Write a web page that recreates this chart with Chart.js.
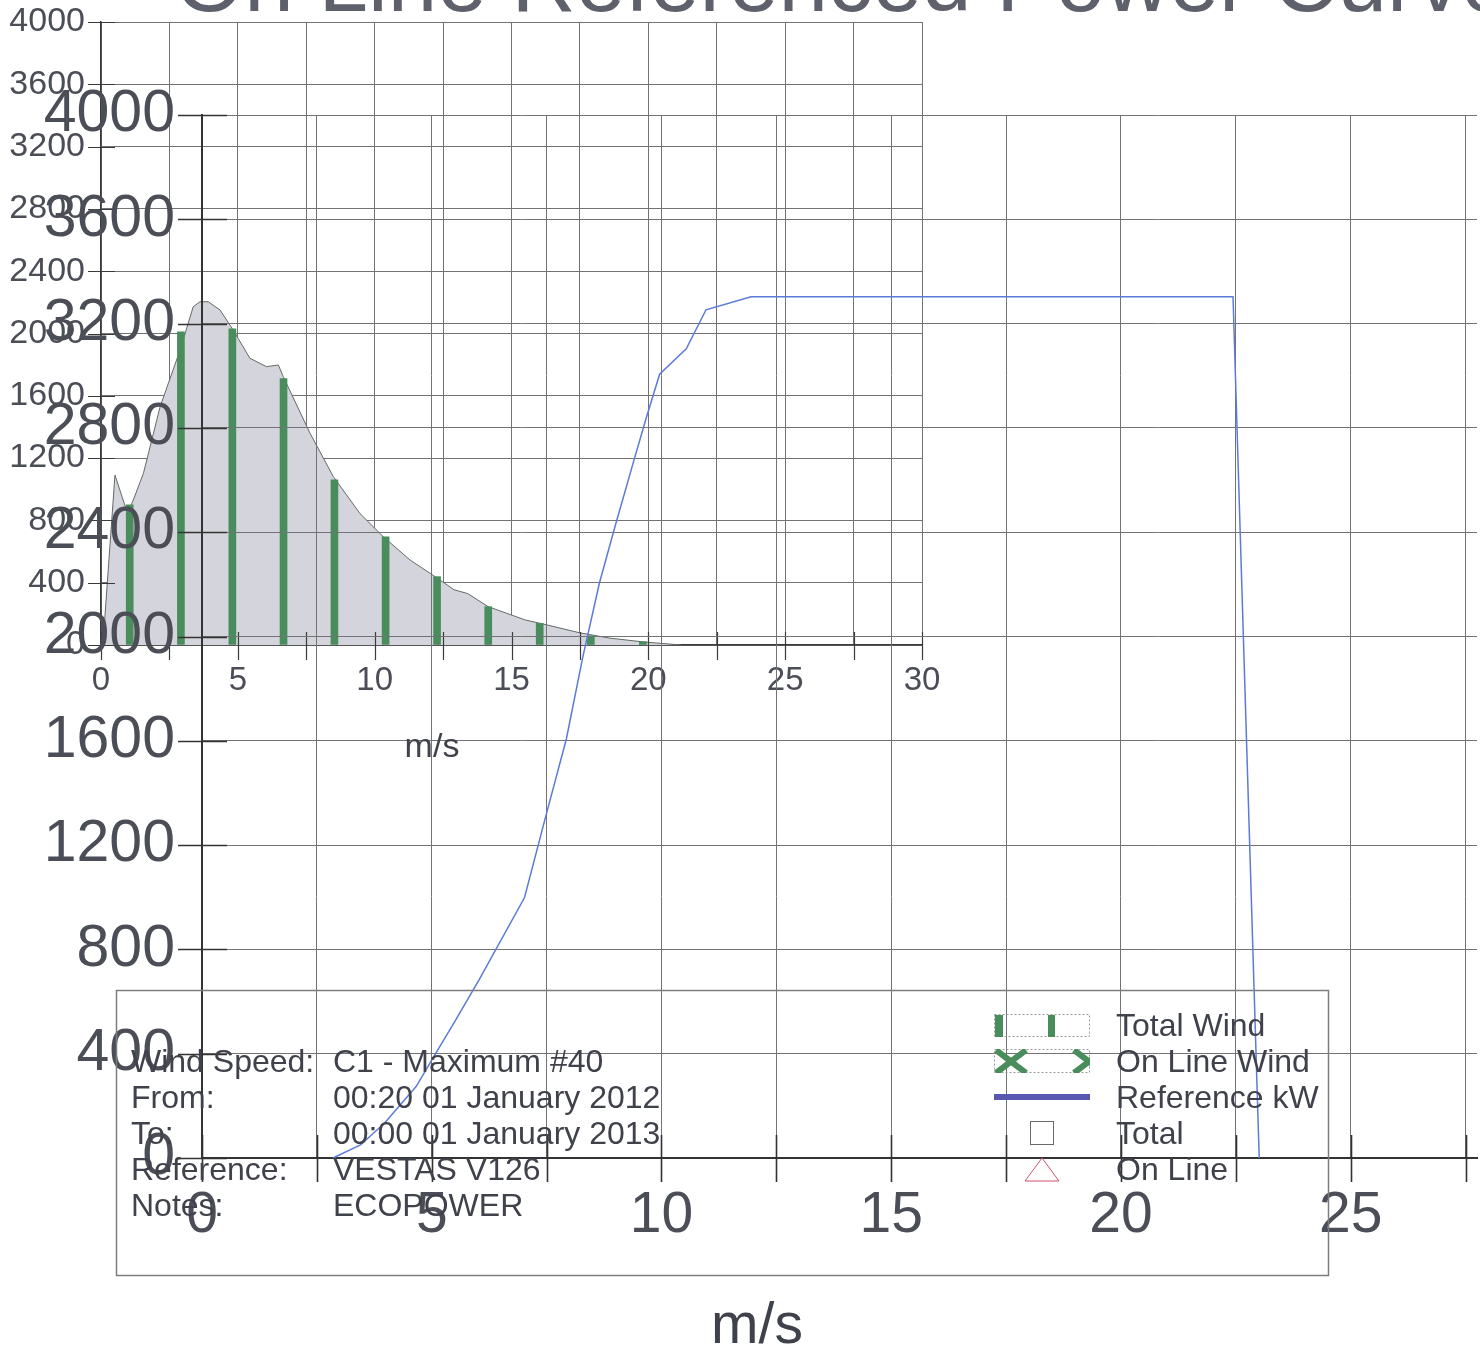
<!DOCTYPE html>
<html>
<head>
<meta charset="utf-8">
<title>On Line Referenced Power Curve</title>
<script src="https://cdn.jsdelivr.net/npm/chart.js@4.4.1/dist/chart.umd.min.js"></script>
<style>
    html, body { margin: 0; padding: 0; background: #fff; }
    #page {
        position: relative; width: 1480px; height: 1351px; overflow: hidden;
        font-family: "Liberation Sans", Arial, sans-serif; color: #3f424a;
    }
    canvas { position: absolute; left: 0; top: 0; }
    .txt { position: absolute; white-space: nowrap; }
    #title { left: 175px; top: -64px; font-size: 89px; line-height: 89px; color: #5e616b; }
    #distUnit { left: 432px; top: 728px; font-size: 34px; line-height: 34px; transform: translateX(-50%); }
    #powerUnit { left: 757px; top: 1295px; font-size: 57px; line-height: 57px; transform: translateX(-50%); }
    #infoLabels { left: 131px; top: 1043px; font-size: 32px; line-height: 36px; }
    #infoValues { left: 333px; top: 1043px; font-size: 32px; line-height: 36px; }
    #legendText { left: 1116px; top: 1007px; font-size: 32px; line-height: 36px; }
    #keys { position: absolute; left: 0; top: 0; }
</style>
</head>
<body>
<div id="page">
    <canvas id="distChart" width="960" height="720"></canvas>
    <canvas id="powerChart" width="1480" height="1351"></canvas>

    <div class="txt" id="title">On Line Referenced Power Curve</div>
    <div class="txt" id="distUnit">m/s</div>
    <div class="txt" id="powerUnit">m/s</div>

    <svg id="keys" width="1480" height="1351">
        <rect x="116.5" y="990.5" width="1212" height="285" fill="none" stroke="#7d7d80" stroke-width="1.5"/>
        <!-- Total Wind -->
        <rect x="994.5" y="1014.5" width="95" height="22" fill="none" stroke="#9a9a9a" stroke-dasharray="2 2"/>
        <rect x="995" y="1015" width="8" height="22" fill="#4a8d5d"/>
        <rect x="1048" y="1015" width="7" height="22" fill="#4a8d5d"/>
        <!-- On Line Wind -->
        <clipPath id="olw"><rect x="994" y="1049" width="96" height="24"/></clipPath>
        <rect x="994.5" y="1049.5" width="95" height="23" fill="none" stroke="#9a9a9a" stroke-dasharray="2 2"/>
        <g clip-path="url(#olw)" stroke="#4a8d5d" stroke-width="6">
            <line x1="996" y1="1050" x2="1026" y2="1073"/>
            <line x1="1026" y1="1050" x2="996" y2="1073"/>
            <line x1="1074" y1="1050" x2="1104" y2="1073"/>
            <line x1="1104" y1="1050" x2="1074" y2="1073"/>
        </g>
        <!-- Reference kW -->
        <line x1="994" y1="1097" x2="1090" y2="1097" stroke="#5858b0" stroke-width="6"/>
        <!-- Total -->
        <rect x="1030.5" y="1121.5" width="23" height="23" fill="none" stroke="#6a6a6a"/>
        <!-- On Line -->
        <polygon points="1042,1158 1025,1181 1059,1181" fill="none" stroke="#d0506a"/>
    </svg>

    <div class="txt" id="infoLabels">Wind Speed:<br>From:<br>To:<br>Reference:<br>Notes:</div>
    <div class="txt" id="infoValues">C1 - Maximum #40<br>00:20 01 January 2012<br>00:00 01 January 2013<br>VESTAS V126<br>ECOPOWER</div>
    <div class="txt" id="legendText">Total Wind<br>On Line Wind<br>Reference kW<br>Total<br>On Line</div>
</div>

<script>
// wind speed distribution (inset chart)
const distSpeed = [0.07, 0.51, 0.97, 1.18, 1.55, 2.16, 2.89, 3.37, 3.62, 3.92, 4.35, 4.83, 5.44, 6.05,
    6.48, 6.66, 7.64, 8.49, 9.46, 10.31, 11.29, 12.2, 12.9, 13.4, 14.15, 15.5, 16.15, 17.5, 18.6, 19.8, 21.2];
const distTotal = [0, 1091, 845, 931, 1102, 1530, 1894, 2172, 2204, 2204, 2151, 2022, 1841, 1787,
    1798, 1723, 1359, 1081, 845, 696, 546, 440, 355, 330, 246, 161, 135, 78, 44, 20, 0];

// "Total Wind" bars
const binSpeed = [1.05, 2.92, 4.8, 6.67, 8.53, 10.4, 12.28, 14.15, 16.03, 17.9, 19.8];
const binTotal = [900, 2010, 2030, 1710, 1060, 695, 439, 246, 139, 59, 21];

// reference power curve (main chart)
const refSpeed = [2.85, 3.45, 3.97, 4.66, 5.09, 5.52, 6.03, 7.02, 7.49, 7.93, 8.29, 8.65, 8.98, 9.38,
    9.67, 9.96, 10.54, 10.97, 11.95, 22.44, 23.01];
const refPower = [0, 50, 133, 274, 402, 529, 683, 999, 1316, 1607, 1923, 2205, 2416, 2663,
    2839, 3006, 3103, 3253, 3303, 3303, 0];

// tick labels
const distXLabels = [0, 5, 10, 15, 20, 25, 30];
const powerXLabels = [0, 5, 10, 15, 20, 25];

const fontFamily = "'Liberation Sans', Arial, sans-serif";
const labelColor = "#4b4e57";
const gridColor = "#727277";

// tick marks that cross the axis line on both sides
const crossTicks = {
    id: "crossTicks",
    afterDraw(chart, args, opts) {
        const { ctx, scales: { x, y } } = chart;
        ctx.save();
        ctx.strokeStyle = opts.color;
        ctx.lineWidth = opts.width;
        ctx.beginPath();
        x.ticks.forEach(t => {
            const px = Math.round(x.getPixelForValue(t.value)) + 0.5;
            ctx.moveTo(px, y.bottom - opts.xIn);
            ctx.lineTo(px, y.bottom + opts.xOut);
        });
        y.ticks.forEach(t => {
            const py = Math.round(y.getPixelForValue(t.value)) + 0.5;
            ctx.moveTo(x.left - opts.yOut, py);
            ctx.lineTo(x.left + opts.yIn, py);
        });
        ctx.stroke();
        ctx.restore();
    }
};

new Chart(document.getElementById("distChart"), {
    type: "line",
    data: {
        datasets: [
            {
                type: "bar",
                label: "Total Wind",
                data: binSpeed.map((s, i) => ({ x: s, y: binTotal[i] })),
                backgroundColor: "#4a8d5d",
                barThickness: 7,
                order: 0
            },
            {
                type: "line",
                label: "Total",
                data: distSpeed.map((s, i) => ({ x: s, y: distTotal[i] })),
                fill: "origin",
                backgroundColor: "#d4d4dc",
                borderColor: "#626a65",
                borderWidth: 1,
                pointRadius: 0,
                tension: 0,
                order: 1
            }
        ]
    },
    options: {
        responsive: false,
        animation: false,
        events: [],
        layout: { padding: { left: 0, top: 22, right: 38, bottom: 0 } },
        plugins: {
            legend: { display: false },
            tooltip: { enabled: false },
            crossTicks: { color: "#3a3a3a", width: 1.2, xIn: 13, xOut: 15, yIn: 14, yOut: 13 }
        },
        scales: {
            x: {
                type: "linear",
                min: 0,
                max: 30,
                offset: false,
                grid: { color: gridColor, lineWidth: 1, drawTicks: false, offset: false },
                border: { color: "#3a3a3a", width: 1.5 },
                ticks: {
                    stepSize: 2.5,
                    autoSkip: false,
                    maxRotation: 0,
                    padding: 16,
                    color: labelColor,
                    font: { family: fontFamily, size: 33 },
                    callback: v => distXLabels.includes(v) ? String(v) : ""
                },
                afterFit: s => { s.height = 75; }
            },
            y: {
                type: "linear",
                min: 0,
                max: 4000,
                grid: { color: gridColor, lineWidth: 1, drawTicks: false },
                border: { color: "#3a3a3a", width: 1.5 },
                ticks: {
                    stepSize: 400,
                    padding: 16,
                    color: labelColor,
                    // small line height keeps the top label from pushing the plot down
                    font: { family: fontFamily, size: 34, lineHeight: 0.3 },
                    callback: v => String(v)
                },
                afterFit: s => { s.width = 101; }
            }
        }
    },
    plugins: [crossTicks]
});

new Chart(document.getElementById("powerChart"), {
    type: "line",
    data: {
        datasets: [
            {
                label: "Reference kW",
                data: refSpeed.map((s, i) => ({ x: s, y: refPower[i] })),
                borderColor: "#5b7bd8",
                borderWidth: 1.5,
                pointRadius: 0,
                tension: 0,
                fill: false
            }
        ]
    },
    options: {
        responsive: false,
        animation: false,
        events: [],
        layout: { padding: { left: 0, top: 115, right: 3, bottom: 0 } },
        plugins: {
            legend: { display: false },
            tooltip: { enabled: false },
            crossTicks: { color: "#333333", width: 1.6, xIn: 23, xOut: 24, yIn: 25, yOut: 24 }
        },
        scales: {
            x: {
                type: "linear",
                min: 0,
                max: 27.75,
                grid: { color: gridColor, lineWidth: 1, drawTicks: false },
                border: { color: "#333333", width: 2 },
                ticks: {
                    stepSize: 2.5,
                    includeBounds: false,
                    autoSkip: false,
                    maxRotation: 0,
                    padding: 0,
                    color: labelColor,
                    // tall line box places labels below the axis without side padding
                    font: { family: fontFamily, size: 57, lineHeight: "117px" },
                    callback: v => powerXLabels.includes(v) ? String(v) : ""
                },
                afterFit: s => { s.height = 193; }
            },
            y: {
                type: "linear",
                min: 0,
                max: 4000,
                grid: { color: gridColor, lineWidth: 1, drawTicks: false },
                border: { color: "#333333", width: 2 },
                ticks: {
                    stepSize: 400,
                    padding: 27,
                    color: labelColor,
                    font: { family: fontFamily, size: 59 },
                    callback: v => String(v)
                },
                afterFit: s => { s.width = 202; }
            }
        }
    },
    plugins: [crossTicks]
});
</script>
</body>
</html>
